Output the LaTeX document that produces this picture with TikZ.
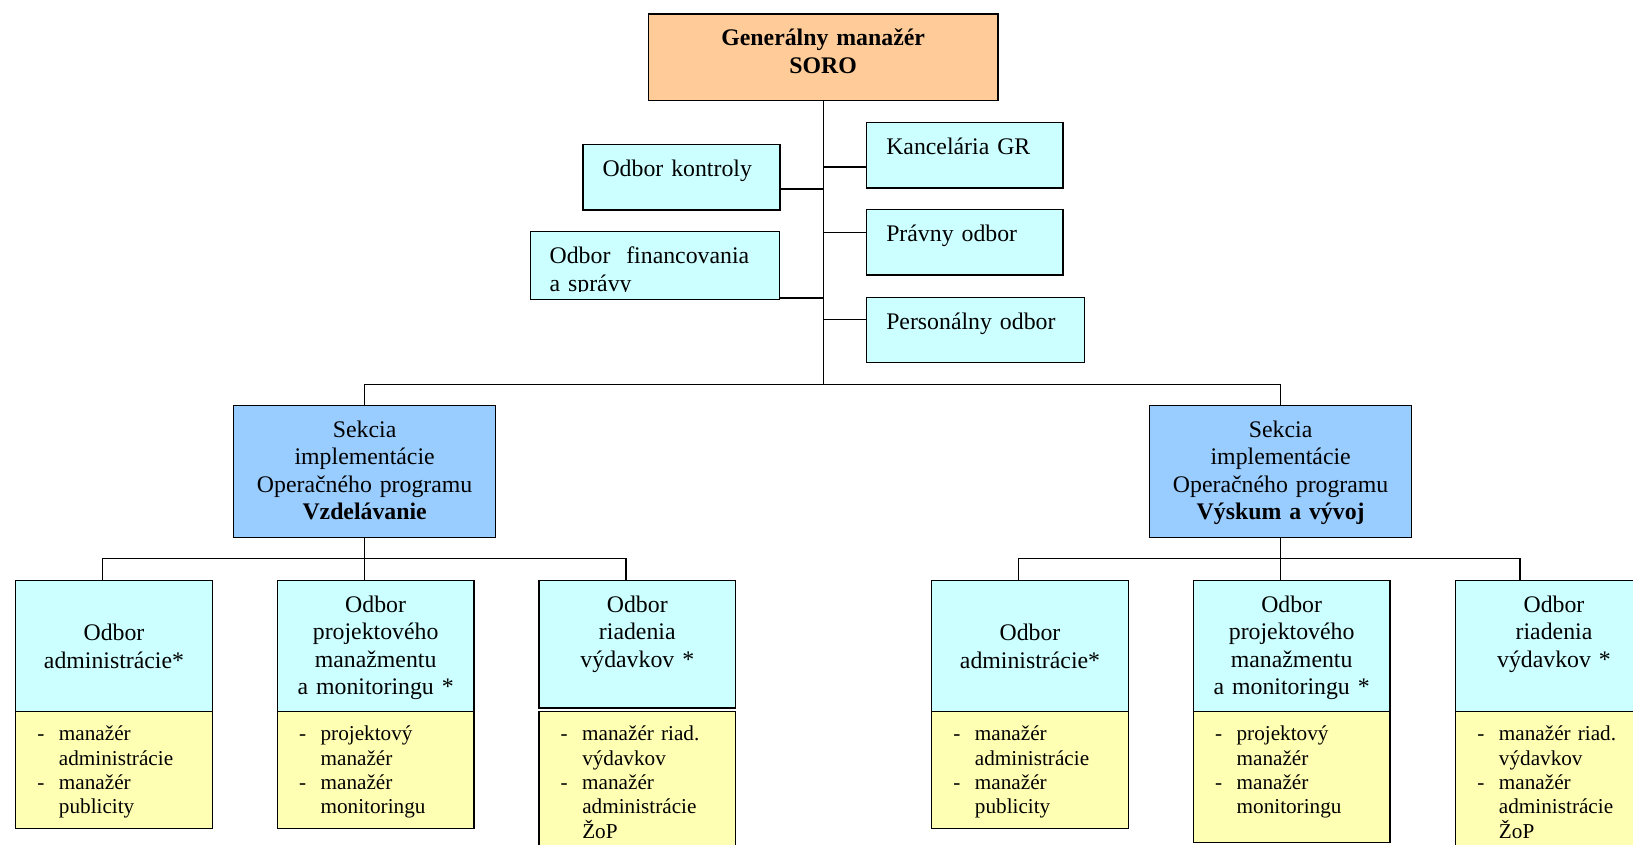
\documentclass[tikz,border=0pt]{standalone}
\usepackage{fontspec}
\setmainfont{Liberation Serif}

\definecolor{gmfill}{HTML}{FFCC99}
\definecolor{sekfill}{HTML}{99CCFF}
\definecolor{odbfill}{HTML}{CCFFFF}
\definecolor{listfill}{HTML}{FFFFB3}

\newcommand{\itm}{\makebox[10.8pt][l]{-}}
\newcommand{\itc}{\hspace*{10.8pt}}

\tikzset{
  box/.style={draw, line width=0.65pt, inner sep=0pt, anchor=north west,
    font=\fontsize{11.9}{13.75}\selectfont},
  dims/.style n args={3}{text width=#1, text height=#2, text depth=#3},
  gmbox/.style={box, fill=gmfill, align=center,
    font=\fontsize{11.9}{13.75}\selectfont\bfseries},
  topbox/.style={box, fill=odbfill, align=left, inner xsep=9.8pt},
  sekbox/.style={box, fill=sekfill, align=center},
  odbbox/.style={box, fill=odbfill, align=center},
  listbox/.style={box, fill=listfill, align=left, inner xsep=10.85pt,
    font=\fontsize{10.6}{12.2}\selectfont},
  conn/.style={line width=0.6pt},
}

\begin{document}
\begin{tikzpicture}[x=0.5pt, y=-0.5pt]
    \useasboundingbox (0,0) rectangle (1633,845);
    \clip (0,0) rectangle (1633,845);

    % vedenie
    \node[gmbox, dims={174.8pt}{15.85pt}{27.5pt}] (gm) at (647.7,13.3) {Generálny manažér\\SORO};
    \node[topbox, dims={78.9pt}{16pt}{16.65pt}] (kontroly) at (582.3,144) {Odbor kontroly};
    \node[topbox, minimum width=124.5pt, minimum height=34pt] (fin) at (530,231) {};
    \begin{scope}
        \clip (fin.north west) rectangle ([yshift=4.25pt]fin.south east);
        \node[topbox, draw=none, fill=none, inner xsep=9.5pt, dims={105.5pt}{16pt}{18pt}] (fin-t) at (fin.north west) {Odbor\ \ financovania\\a správy};
    \end{scope}
    \node[topbox, dims={78.5pt}{16pt}{16.65pt}] (kancelaria) at (866,122) {Kancelária GR};
    \node[topbox, dims={78.5pt}{16pt}{16.65pt}] (pravny) at (866,209) {Právny odbor};
    \node[topbox, dims={89.3pt}{16pt}{16.5pt}] (personal) at (866,296.7) {Personálny odbor};

    \path (gm.south) ++(0,65.7) coordinate (j1);
    \path (gm.south) ++(0,87.7) coordinate (j2);
    \path (gm.south) ++(0,131) coordinate (j3);
    \path (gm.south) ++(0,196.7) coordinate (j4);
    \path (gm.south) ++(0,218.3) coordinate (j5);
    \path (gm.south) ++(0,283.3) coordinate (bus);
    \draw[conn] (gm.south) -- (bus);
    \draw[conn] (j1) -- (j1 -| kancelaria.west);
    \draw[conn] (j2) -- (j2 -| kontroly.east);
    \draw[conn] (j3) -- (j3 -| pravny.west);
    \draw[conn] (j4) -- (j4 -| fin.east);
    \draw[conn] (j5) -- (j5 -| personal.west);

    % sekcie
    \node[sekbox, dims={131pt}{15.85pt}{50pt}] (sekV) at (233,405) {Sekcia\\implementácie\\Operačného programu\\\textbf{Vzdelávanie}};
    \node[sekbox, dims={131pt}{15.85pt}{50pt}] (sekW) at (1149,405) {Sekcia\\implementácie\\Operačného programu\\\textbf{Výskum a vývoj}};
    \draw[conn] (sekV.north) |- (bus) -| (sekW.north);

    % odbory - Vzdelavanie
    \node[odbbox, dims={98.35pt}{30pt}{35.35pt}] (admV) at (15,580) {Odbor\\administrácie*};
    \node[odbbox, dims={98.3pt}{15.85pt}{49.5pt}] (prjV) at (276.7,580) {Odbor\\projektového\\manažmentu\\a monitoringu *};
    \node[odbbox, dims={98.35pt}{15.85pt}{47.8pt}] (vydV) at (538.3,580) {Odbor\\riadenia\\výdavkov *};
    \node[listbox, dims={76.65pt}{14.65pt}{43.85pt}] (admVl) at (15,710.7) {\itm manažér\\\itc administrácie\\\itm manažér\\\itc publicity};
    \node[listbox, dims={76.6pt}{14.65pt}{43.85pt}] (prjVl) at (276.7,710.7) {\itm projektový\\\itc manažér\\\itm manažér\\\itc monitoringu};
    \node[listbox, dims={76.65pt}{14.65pt}{60.35pt}] (vydVl) at (538.3,710.7) {\itm manažér riad.\\\itc výdavkov\\\itm manažér\\\itc administrácie\\\itc ŽoP};

    \path (sekV.south) ++(0,21.6) coordinate (bV);
    \coordinate (bV1) at (102.7,558.3);
    \coordinate (bV3) at (626,558.3);
    \draw[conn] (sekV.south) -- (bV);
    \draw[conn] (bV1) -- (bV3);
    \draw[conn] (bV1) -- (bV1 |- admV.north);
    \draw[conn] (bV) -- (bV |- prjV.north);
    \draw[conn] (bV3) -- (bV3 |- vydV.north);

    % odbory - Vyskum a vyvoj
    \node[odbbox, dims={98.35pt}{30pt}{35.35pt}] (admW) at (931,580) {Odbor\\administrácie*};
    \node[odbbox, dims={98.3pt}{15.85pt}{49.5pt}] (prjW) at (1192.7,580) {Odbor\\projektového\\manažmentu\\a monitoringu *};
    \node[odbbox, dims={98.35pt}{15.85pt}{49.5pt}] (vydW) at (1455,580) {Odbor\\riadenia\\výdavkov *};
    \node[listbox, dims={76.65pt}{14.65pt}{43.85pt}] (admWl) at (931,710.7) {\itm manažér\\\itc administrácie\\\itm manažér\\\itc publicity};
    \node[listbox, dims={76.6pt}{14.65pt}{50.85pt}] (prjWl) at (1192.7,710.7) {\itm projektový\\\itc manažér\\\itm manažér\\\itc monitoringu};
    \node[listbox, dims={76.65pt}{14.65pt}{60.35pt}] (vydWl) at (1455,710.7) {\itm manažér riad.\\\itc výdavkov\\\itm manažér\\\itc administrácie\\\itc ŽoP};

    \path (sekW.south) ++(0,21.6) coordinate (bW);
    \coordinate (bW1) at (1018.7,558.3);
    \coordinate (bW3) at (1520,558.3);
    \draw[conn] (sekW.south) -- (bW);
    \draw[conn] (bW1) -- (bW3);
    \draw[conn] (bW1) -- (bW1 |- admW.north);
    \draw[conn] (bW) -- (bW |- prjW.north);
    \draw[conn] (bW3) -- (bW3 |- vydW.north);
\end{tikzpicture}
\end{document}
